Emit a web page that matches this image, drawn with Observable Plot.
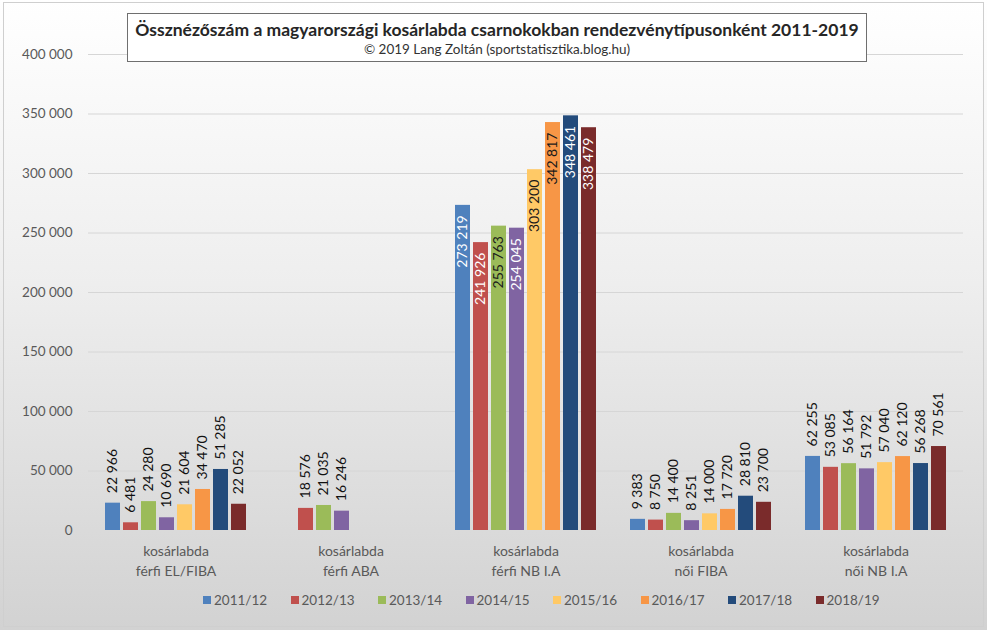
<!DOCTYPE html>
<html>
<head>
<meta charset="utf-8">
<script src="https://cdn.jsdelivr.net/npm/d3@7"></script>
<script src="https://cdn.jsdelivr.net/npm/@observablehq/plot@0.6"></script>
<style>
  html, body { margin: 0; padding: 0; }
  #wrap { position: relative; width: 987px; height: 630px; overflow: hidden;
    background: linear-gradient(to bottom, #ffffff 0%, #eeeeee 45%, #d2d2d2 100%);
    font-family: Lato, "Open Sans", sans-serif; }
  #frame { position: absolute; left: 3px; top: 2px; width: 979px; height: 623px; border: 1px solid #cfcfcf; pointer-events: none; }
  #chart { position: absolute; left: 0; top: 0; }
  #title { position: absolute; left: 127px; top: 13px; width: 740px; height: 49px; background: #fff;
    border: 1px solid #6f6f6f; text-align: center; color: #262626; box-sizing: border-box; }
  #title .t { font-weight: bold; font-size: 17.5px; margin-top: 5px; line-height: 21px; }
  #title .s { font-size: 13.5px; line-height: 19px; color: #333; }
  .lg { position: absolute; top: 592px; font-size: 13.5px; color: #595959; white-space: nowrap; line-height: 16px; }
  .lg span.sw { display: inline-block; width: 8px; height: 8px; margin-right: 3px; vertical-align: 1px; }
</style>
</head>
<body>
<div id="wrap">
  <div id="chart"></div>
  <div id="title"><div class="t">Össznézőszám a magyarországi kosárlabda csarnokokban rendezvénytípusonként 2011-2019</div><div class="s">© 2019 Lang Zoltán (sportstatisztika.blog.hu)</div></div>
  <div id="legend"></div>
  <div id="frame"></div>
</div>
<script>
const categories = ["kosárlabda\nférfi EL/FIBA", "kosárlabda\nférfi ABA", "kosárlabda\nférfi NB I.A", "kosárlabda\nnői FIBA", "kosárlabda\nnői NB I.A"];
const seasons = ["2011/12", "2012/13", "2013/14", "2014/15", "2015/16", "2016/17", "2017/18", "2018/19"];
const colors = ["#4F81BD", "#C0504D", "#9BBB59", "#8064A2", "#FFC966", "#F79646", "#234B7B", "#7A2B2B"];
const yTicks = [0, 50000, 100000, 150000, 200000, 250000, 300000, 350000, 400000];

const s2011_12 = [22966, null, 273219, 9383, 62255];
const s2012_13 = [6481, 18576, 241926, 8750, 53085];
const s2013_14 = [24280, 21035, 255763, 14400, 56164];
const s2014_15 = [10690, 16246, 254045, 8251, 51792];
const s2015_16 = [21604, null, 303200, 14000, 57040];
const s2016_17 = [34470, null, 342817, 17720, 62120];
const s2017_18 = [51285, null, 348461, 28810, 56268];
const s2018_19 = [22052, null, 338479, 23700, 70561];
const series = [s2011_12, s2012_13, s2013_14, s2014_15, s2015_16, s2016_17, s2017_18, s2018_19];

// Labels drawn inside the bar end (group "férfi NB I.A"); dark text on light bars
const insideCategory = categories[2];
const darkInsideSeasons = ["2013/14", "2015/16", "2016/17"];

const rows = [];
categories.forEach((c, ci) => {
  seasons.forEach((s, si) => {
    const v = series[si][ci];
    if (v != null) rows.push({cat: c, season: s, value: v});
  });
});

const fmt = d => d3.format(",")(d).replace(/,/g, " ");
const outside = rows.filter(d => d.cat !== insideCategory);
const insideLight = rows.filter(d => d.cat === insideCategory && !darkInsideSeasons.includes(d.season));
const insideDark = rows.filter(d => d.cat === insideCategory && darkInsideSeasons.includes(d.season));

const chart = Plot.plot({
  width: 987,
  height: 630,
  marginTop: 54,
  marginBottom: 100,
  marginLeft: 88,
  marginRight: 24,
  style: {background: "transparent", fontFamily: "Lato, 'Open Sans', sans-serif", fontSize: "13.5px", color: "#595959"},
  fx: {domain: categories, padding: 0, label: null},
  x: {domain: seasons, paddingInner: 0.19, paddingOuter: 0.825, axis: null},
  y: {domain: [0, 400000], axis: null},
  color: {domain: seasons, range: colors},
  marks: [
    Plot.gridY({ticks: yTicks.filter(t => t > 0), stroke: "#d6d6d6", strokeOpacity: 1, strokeWidth: 1}),
    Plot.axisY({ticks: yTicks, tickSize: 0, tickPadding: 16, tickFormat: fmt, label: null, fill: "#595959", fontSize: 13.5}),
    Plot.axisFx({anchor: "bottom", tickSize: 0, tickPadding: 11, lineHeight: 1.45, label: null, fill: "#595959", fontSize: 14}),
    Plot.barY(rows, {fx: "cat", x: "season", y: "value", fill: "season"}),
    Plot.text(outside, {fx: "cat", x: "season", y: "value", text: d => fmt(d.value), rotate: -90, textAnchor: "start", lineAnchor: "middle", dy: -10, fill: "#111", fontSize: 14}),
    Plot.text(insideLight, {fx: "cat", x: "season", y: "value", text: d => fmt(d.value), rotate: -90, textAnchor: "end", lineAnchor: "middle", dy: 10, fill: "#ffffff", fontSize: 14}),
    Plot.text(insideDark, {fx: "cat", x: "season", y: "value", text: d => fmt(d.value), rotate: -90, textAnchor: "end", lineAnchor: "middle", dy: 10, fill: "#1a1a1a", fontSize: 14})
  ]
});
document.getElementById("chart").appendChild(chart);

const legend = document.getElementById("legend");
seasons.forEach((s, i) => {
  const el = document.createElement("div");
  el.className = "lg";
  el.style.left = (203 + i * 87.5) + "px";
  el.innerHTML = `<span class="sw" style="background:${colors[i]}"></span>${s}`;
  legend.appendChild(el);
});
</script>
</body>
</html>
